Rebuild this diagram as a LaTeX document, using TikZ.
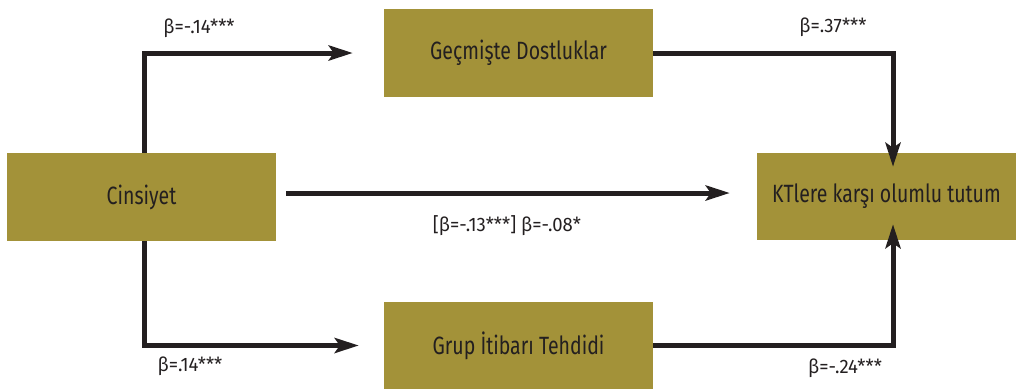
\documentclass[tikz,border=0pt]{standalone}
\usepackage{fontspec}
\setmainfont{Fira Sans}[FakeStretch=0.78]
\newfontfamily\lblfont{Fira Sans}[FakeStretch=0.95]
\usetikzlibrary{arrows.meta}
\definecolor{olive}{HTML}{A39239}
\definecolor{ink}{HTML}{231F20}
\tikzset{
  box/.style={fill=olive, draw=none, inner sep=0pt, text=ink, font=\fontsize{25}{27}\selectfont},
  conn/.style={draw=ink, line width=5pt, -{Stealth[length=24pt,width=15pt,inset=5pt]}},
  lbl/.style={text=ink, font=\lblfont\fontsize{19.5}{21}\selectfont, inner sep=0pt},
}
\begin{document}
\begin{tikzpicture}[x=1pt,y=-1pt]
\useasboundingbox (0,0) rectangle (1016,389);
\node[box, minimum width=269pt, minimum height=88pt] (cins) at (141.5,197) {Cinsiyet};
\node[box, minimum width=269pt, minimum height=88pt] (gec) at (518.5,53) {Geçmişte Dostluklar};
\node[box, minimum width=269pt, minimum height=87pt] (grup) at (518.5,345.5) {Grup İtibarı Tehdidi};
\node[box, minimum width=259pt, minimum height=87pt] (kt) at (886.5,196.5) {KTlere karşı olumlu tutum};
\coordinate (c1) at (cins.north -| 144,0);
\coordinate (c2) at (cins.south -| 144,0);
\draw[conn, line join=miter] (c1) |- ([xshift=-31pt]gec.west);
\draw[conn, line join=miter] (c2) |- ([xshift=-25pt]grup.west);
\coordinate (k1) at ([yshift=-14pt]kt.north -| 893,0);
\coordinate (k2) at ([yshift=16pt]kt.south -| 893,0);
\draw[conn, line join=miter] (gec.east) -| (k1);
\draw[conn, line join=miter] (grup.east) -| (k2);
\draw[conn] ([xshift=10pt,yshift=4pt]cins.east) -- ([xshift=-27pt,yshift=4pt]cins.east -| kt.west);
\node[lbl] (l1) at (199,28) {β=-.14***};
\node[lbl] (l2) at (833,27) {β=.37***};
\node[lbl] (l3) at (190,366) {β=.14***};
\node[lbl] (l4) at (845,368) {β=-.24***};
\node[lbl] (l5) at (507,226) {[β=-.13***] β=-.08*};
\end{tikzpicture}
\end{document}
